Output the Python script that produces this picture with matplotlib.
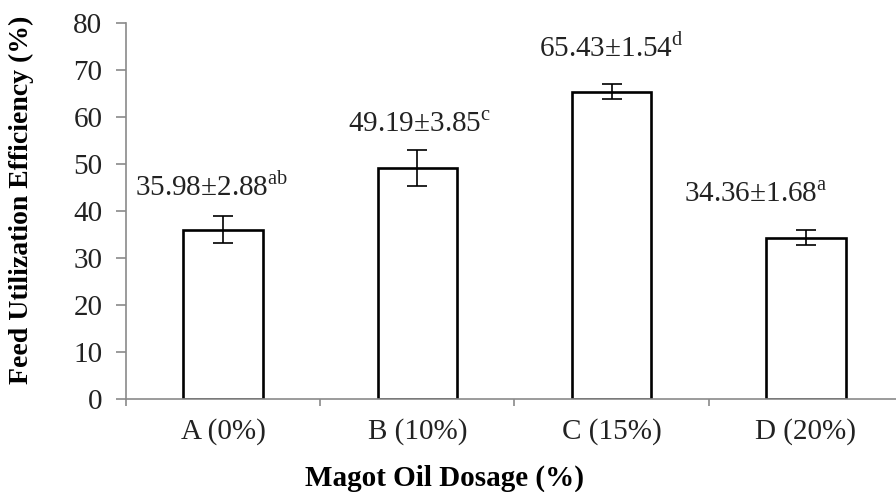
import matplotlib
matplotlib.use("Agg")
import matplotlib.pyplot as plt
from matplotlib.ticker import MultipleLocator, FixedLocator

# Feed utilization efficiency by maggot oil dosage
categories = ["A (0%)", "B (10%)", "C (15%)", "D (20%)"]
means = [35.98, 49.19, 65.43, 34.36]
sds = [2.88, 3.85, 1.54, 1.68]
letters = ["ab", "c", "d", "a"]

plt.rcParams["font.family"] = ["Liberation Serif", "DejaVu Serif"]
plt.rcParams["mathtext.fontset"] = "custom"
plt.rcParams["mathtext.rm"] = "Liberation Serif"

fig = plt.figure(figsize=(8.96, 4.92), dpi=100)
ax = fig.add_axes([0.1406, 0.189, 0.8672, 0.764])

x = list(range(len(categories)))
ax.bar(x, means, width=0.41, color="white", edgecolor="black", linewidth=1.9, zorder=2)
ax.errorbar(x, means, yerr=sds, fmt="none", ecolor="black", elinewidth=1.2,
            capsize=7, capthick=1.2, zorder=3)

# horizontal shift (pixels) of each value label relative to its bar
label_dx = [-11, 2, 0, -50]
for xi, m, s, lt, dx in zip(x, means, sds, letters, label_dx):
    ax.annotate(f"{m:.2f}±{s:.2f}" + r"$^{\mathrm{" + lt + "}}$",
                xy=(xi, m), xytext=(dx, 43), textcoords="offset pixels",
                ha="center", va="center", fontsize=21, color="#222222")

ax.set_xlim(-0.5, 3.5)
ax.set_ylim(0, 80)
ax.yaxis.set_major_locator(MultipleLocator(10))
ax.set_xticks(x)
ax.set_xticklabels(categories)
ax.xaxis.set_minor_locator(FixedLocator([-0.5, 0.5, 1.5, 2.5, 3.5]))

for side in ("top", "right"):
    ax.spines[side].set_visible(False)
for side in ("left", "bottom"):
    ax.spines[side].set_color("#8a8a8a")
    ax.spines[side].set_linewidth(1.2)

ax.tick_params(axis="y", which="major", direction="out", length=7, width=1.2,
               color="#8a8a8a", labelsize=21, pad=10, labelcolor="#222222")
ax.tick_params(axis="x", which="major", length=0, labelsize=21, pad=14,
               labelcolor="#222222")
ax.tick_params(axis="x", which="minor", direction="out", length=5, width=1.2,
               color="#8a8a8a")

ax.set_ylabel("Feed Utilization Efficiency (%)", fontsize=20, fontweight="bold")
ax.yaxis.set_label_coords(-0.135, 0.53)
ax.set_xlabel("Magot Oil Dosage (%)", fontsize=21, fontweight="bold")
ax.xaxis.set_label_coords(0.41, -0.21)
ax.xaxis.label.set_va("center")
ax.yaxis.label.set_va("center")

fig.savefig("out.png", dpi=100)
